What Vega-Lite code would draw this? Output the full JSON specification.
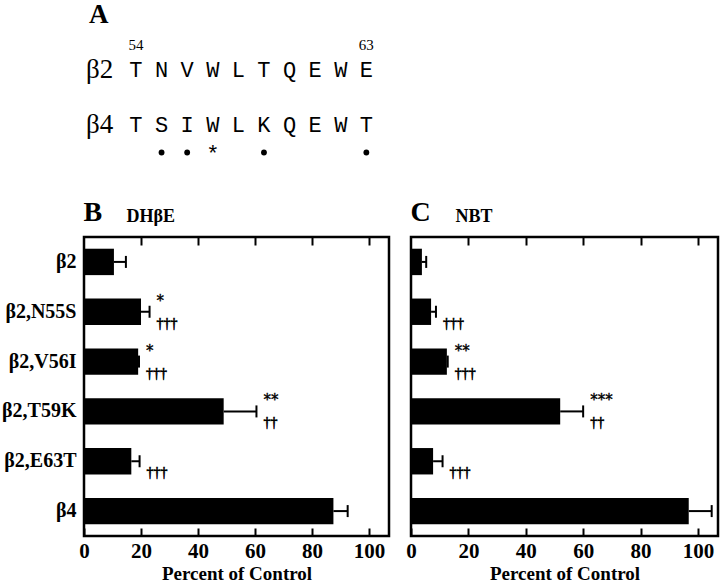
{
  "$schema": "https://vega.github.io/schema/vega-lite/v6.json",
  "background": "white",
  "padding": {"left": 0, "top": 0, "right": 0, "bottom": 0},
  "config": {"font": "Liberation Serif", "view": {"stroke": null}},
  "datasets": {
    "seq": [
      {"kind": "head", "col": -1.45, "row": 0, "t": "A"},
      {"kind": "num", "col": 0, "row": 1.1, "t": "54"},
      {"kind": "num", "col": 9, "row": 1.1, "t": "63"},
      {"kind": "label", "col": -1.42, "row": 2, "t": "β2"},
      {"kind": "label", "col": -1.42, "row": 4, "t": "β4"},
      {"kind": "res", "col": 0, "row": 2, "t": "T"},
      {"kind": "res", "col": 1, "row": 2, "t": "N"},
      {"kind": "res", "col": 2, "row": 2, "t": "V"},
      {"kind": "res", "col": 3, "row": 2, "t": "W"},
      {"kind": "res", "col": 4, "row": 2, "t": "L"},
      {"kind": "res", "col": 5, "row": 2, "t": "T"},
      {"kind": "res", "col": 6, "row": 2, "t": "Q"},
      {"kind": "res", "col": 7, "row": 2, "t": "E"},
      {"kind": "res", "col": 8, "row": 2, "t": "W"},
      {"kind": "res", "col": 9, "row": 2, "t": "E"},
      {"kind": "res", "col": 0, "row": 4, "t": "T"},
      {"kind": "res", "col": 1, "row": 4, "t": "S"},
      {"kind": "res", "col": 2, "row": 4, "t": "I"},
      {"kind": "res", "col": 3, "row": 4, "t": "W"},
      {"kind": "res", "col": 4, "row": 4, "t": "L"},
      {"kind": "res", "col": 5, "row": 4, "t": "K"},
      {"kind": "res", "col": 6, "row": 4, "t": "Q"},
      {"kind": "res", "col": 7, "row": 4, "t": "E"},
      {"kind": "res", "col": 8, "row": 4, "t": "W"},
      {"kind": "res", "col": 9, "row": 4, "t": "T"},
      {"kind": "star", "col": 3, "row": 5.05, "t": "*"},
      {"kind": "dot", "col": 1, "row": 5, "t": ""},
      {"kind": "dot", "col": 2, "row": 5, "t": ""},
      {"kind": "dot", "col": 5, "row": 5, "t": ""},
      {"kind": "dot", "col": 9, "row": 5, "t": ""}
    ],
    "dhbe": [
      {"cat": "β2", "val": 10.5, "upper": 14.7, "star": "", "dag": ""},
      {"cat": "β2,N55S", "val": 20, "upper": 23, "star": "*", "dag": "†††"},
      {"cat": "β2,V56I", "val": 19, "upper": 19.3, "star": "*", "dag": "†††"},
      {"cat": "β2,T59K", "val": 49, "upper": 60.5, "star": "**", "dag": "††"},
      {"cat": "β2,E63T", "val": 16.6, "upper": 19.5, "star": "", "dag": "†††"},
      {"cat": "β4", "val": 87.5, "upper": 92.5, "star": "", "dag": ""}
    ],
    "nbt": [
      {"cat": "β2", "val": 3.8, "upper": 5.3, "star": "", "dag": ""},
      {"cat": "β2,N55S", "val": 7, "upper": 8.7, "star": "", "dag": "†††"},
      {"cat": "β2,V56I", "val": 12.5, "upper": 12.8, "star": "**", "dag": "†††"},
      {"cat": "β2,T59K", "val": 52, "upper": 60, "star": "***", "dag": "††"},
      {"cat": "β2,E63T", "val": 7.7, "upper": 11, "star": "", "dag": "†††"},
      {"cat": "β4", "val": 96.8, "upper": 104.8, "star": "", "dag": ""}
    ]
  },
  "spacing": 27,
  "vconcat": [
    {
      "width": 630,
      "height": 169,
      "data": {"name": "seq"},
      "encoding": {
        "x": {"field": "col", "type": "quantitative", "scale": {"domain": [-2.03, 22.58], "nice": false, "zero": false}, "axis": null},
        "y": {"field": "row", "type": "quantitative", "scale": {"domain": [-0.55, 5.6], "nice": false, "zero": false, "reverse": true}, "axis": null}
      },
      "layer": [
        {"transform": [{"filter": "datum.kind === 'head'"}], "mark": {"type": "text", "font": "Liberation Serif", "fontWeight": "bold", "fontSize": 27, "baseline": "middle", "color": "black"}, "encoding": {"text": {"field": "t"}}},
        {"transform": [{"filter": "datum.kind === 'num'"}], "mark": {"type": "text", "font": "Liberation Serif", "fontSize": 15, "baseline": "middle", "color": "black"}, "encoding": {"text": {"field": "t"}}},
        {"transform": [{"filter": "datum.kind === 'label'"}], "mark": {"type": "text", "font": "Liberation Serif", "fontSize": 27, "baseline": "middle", "color": "black"}, "encoding": {"text": {"field": "t"}}},
        {"transform": [{"filter": "datum.kind === 'res'"}], "mark": {"type": "text", "font": "Liberation Mono", "fontSize": 22, "baseline": "middle", "color": "black"}, "encoding": {"text": {"field": "t"}}},
        {"transform": [{"filter": "datum.kind === 'star'"}], "mark": {"type": "text", "font": "Liberation Mono", "fontSize": 22, "baseline": "middle", "color": "black"}, "encoding": {"text": {"field": "t"}}},
        {"transform": [{"filter": "datum.kind === 'dot'"}], "mark": {"type": "point", "filled": true, "size": 34, "color": "black", "opacity": 1}}
      ]
    },
    {
      "hconcat": [
        {
          "width": 305,
          "height": 299,
          "data": {"name": "dhbe"},
          "view": {"stroke": "black", "strokeWidth": 2.5},
          "encoding": {
            "y": {"field": "cat", "type": "nominal", "sort": null, "scale": {"paddingInner": 0.47, "paddingOuter": 0.235},
              "axis": {"title": null, "ticks": false, "domain": false, "labelFont": "Liberation Serif", "labelFontWeight": "bold", "labelFontSize": 20, "labelColor": "black", "labelPadding": 8, "minExtent": 78, "maxExtent": 78}}
          },
          "layer": [
            {"mark": {"type": "bar", "color": "black"},
              "encoding": {"x": {"field": "val", "type": "quantitative", "scale": {"domain": [0, 107], "nice": false},
                "axis": {"orient": "bottom", "values": [0, 20, 40, 60, 80, 100], "grid": false, "domain": false, "tickSize": -8, "tickWidth": 2, "tickColor": "black", "labelFont": "Liberation Serif", "labelFontWeight": "bold", "labelFontSize": 21, "labelColor": "black", "labelPadding": 12, "labelFlush": false, "title": "Percent of Control", "titleFont": "Liberation Serif", "titleFontWeight": "bold", "titleFontSize": 19, "titleColor": "black", "titlePadding": 3}}}},
            {"mark": {"type": "rule", "strokeWidth": 2, "color": "black"},
              "encoding": {"x": {"field": "val", "type": "quantitative",
                "axis": {"orient": "top", "values": [20, 40, 60, 80, 100], "labels": false, "grid": false, "domain": false, "tickSize": -8, "tickWidth": 2, "tickColor": "black", "title": "DHβE", "titleX": 42, "titleY": -21, "titleAlign": "left", "titleBaseline": "middle", "titleFont": "Liberation Serif", "titleFontWeight": "bold", "titleFontSize": 18, "titleColor": "black"}},
                "x2": {"field": "upper"}}},
            {"mark": {"type": "tick", "size": 12, "thickness": 2, "color": "black", "opacity": 1},
              "encoding": {"x": {"field": "upper", "type": "quantitative",
                "axis": {"orient": "top", "labels": false, "ticks": false, "grid": false, "domain": false, "title": "B", "titleX": -1, "titleY": -25, "titleAlign": "left", "titleBaseline": "middle", "titleFont": "Liberation Serif", "titleFontWeight": "bold", "titleFontSize": 28, "titleColor": "black"}}}},
            {"mark": {"type": "text", "align": "left", "baseline": "middle", "dx": 7, "dy": -11, "font": "DejaVu Sans", "fontSize": 15, "fill": "black", "stroke": "black", "strokeWidth": 0.4},
              "encoding": {"x": {"field": "upper", "type": "quantitative", "axis": null}, "text": {"field": "star"}}},
            {"mark": {"type": "text", "align": "left", "baseline": "middle", "dx": 7, "dy": 12, "font": "Liberation Serif", "fontSize": 14, "fill": "black", "stroke": "black", "strokeWidth": 0.6},
              "encoding": {"x": {"field": "upper", "type": "quantitative", "axis": null}, "text": {"field": "dag"}}}
          ],
          "resolve": {"axis": {"x": "independent"}}
        },
        {
          "width": 307,
          "height": 299,
          "data": {"name": "nbt"},
          "view": {"stroke": "black", "strokeWidth": 2.5},
          "encoding": {
            "y": {"field": "cat", "type": "nominal", "sort": null, "scale": {"paddingInner": 0.47, "paddingOuter": 0.235}, "axis": null}
          },
          "layer": [
            {"mark": {"type": "bar", "color": "black"},
              "encoding": {"x": {"field": "val", "type": "quantitative", "scale": {"domain": [0, 107], "nice": false},
                "axis": {"orient": "bottom", "values": [0, 20, 40, 60, 80, 100], "grid": false, "domain": false, "tickSize": -8, "tickWidth": 2, "tickColor": "black", "labelFont": "Liberation Serif", "labelFontWeight": "bold", "labelFontSize": 21, "labelColor": "black", "labelPadding": 12, "labelFlush": false, "title": "Percent of Control", "titleFont": "Liberation Serif", "titleFontWeight": "bold", "titleFontSize": 19, "titleColor": "black", "titlePadding": 3}}}},
            {"mark": {"type": "rule", "strokeWidth": 2, "color": "black"},
              "encoding": {"x": {"field": "val", "type": "quantitative",
                "axis": {"orient": "top", "values": [20, 40, 60, 80, 100], "labels": false, "grid": false, "domain": false, "tickSize": -8, "tickWidth": 2, "tickColor": "black", "title": "NBT", "titleX": 44, "titleY": -21, "titleAlign": "left", "titleBaseline": "middle", "titleFont": "Liberation Serif", "titleFontWeight": "bold", "titleFontSize": 18, "titleColor": "black"}},
                "x2": {"field": "upper"}}},
            {"mark": {"type": "tick", "size": 12, "thickness": 2, "color": "black", "opacity": 1},
              "encoding": {"x": {"field": "upper", "type": "quantitative",
                "axis": {"orient": "top", "labels": false, "ticks": false, "grid": false, "domain": false, "title": "C", "titleX": -1, "titleY": -25, "titleAlign": "left", "titleBaseline": "middle", "titleFont": "Liberation Serif", "titleFontWeight": "bold", "titleFontSize": 28, "titleColor": "black"}}}},
            {"mark": {"type": "text", "align": "left", "baseline": "middle", "dx": 7, "dy": -11, "font": "DejaVu Sans", "fontSize": 15, "fill": "black", "stroke": "black", "strokeWidth": 0.4},
              "encoding": {"x": {"field": "upper", "type": "quantitative", "axis": null}, "text": {"field": "star"}}},
            {"mark": {"type": "text", "align": "left", "baseline": "middle", "dx": 7, "dy": 12, "font": "Liberation Serif", "fontSize": 14, "fill": "black", "stroke": "black", "strokeWidth": 0.6},
              "encoding": {"x": {"field": "upper", "type": "quantitative", "axis": null}, "text": {"field": "dag"}}}
          ],
          "resolve": {"axis": {"x": "independent"}}
        }
      ],
      "spacing": 13
    }
  ]
}
